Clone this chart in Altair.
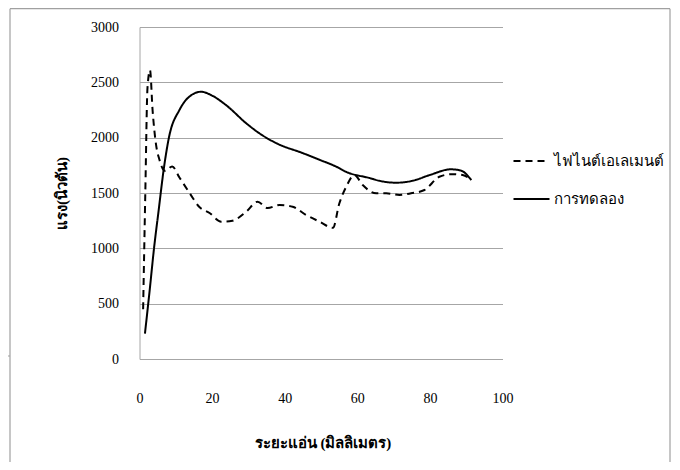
import altair as alt
import pandas as pd

# Finite element series (dashed)
fem_x = [1.0, 1.6, 2.2, 2.9, 3.6, 4.5, 5.5, 7.0, 9.0, 11.0, 13.8, 16.5, 19.3, 22.5, 25.6,
         29.4, 32.5, 35.3, 38.6, 42.2, 45.9, 49.6, 53.3, 55.0, 57.0, 59.2, 61.5, 65.2,
         68.0, 71.6, 74.8, 78.5, 82.6, 86.0, 89.0, 91.4]
fem_y = [450, 1500, 2450, 2610, 2250, 1950, 1800, 1700, 1740, 1640, 1500, 1373, 1319,
         1241, 1250, 1331, 1421, 1364, 1392, 1376, 1301, 1241, 1185, 1400, 1560, 1663,
         1572, 1497, 1497, 1482, 1497, 1527, 1647, 1670, 1663, 1617]

# Experiment series (solid)
exp_x = [1.5, 2.8, 4.0, 5.3, 6.7, 8.1, 11.0, 13.3, 17.0, 20.0, 24.0, 29.4, 33.0, 37.7,
         45.0, 50.0, 54.2, 57.0, 63.4, 66.0, 70.7, 75.3, 80.0, 85.8, 88.6, 91.4]
exp_y = [230, 620, 1000, 1350, 1720, 2000, 2250, 2358, 2415, 2380, 2290, 2130, 2040,
         1950, 1860, 1795, 1738, 1690, 1635, 1611, 1593, 1611, 1663, 1714, 1702, 1617]

series_names = ["ไฟไนต์เอเลเมนต์", "การทดลอง"]
x_ticks = [0, 20, 40, 60, 80, 100]
y_ticks = [0, 500, 1000, 1500, 2000, 2500, 3000]

df = pd.concat([
    pd.DataFrame({"x": fem_x, "y": fem_y, "s": series_names[0], "o": range(len(fem_x))}),
    pd.DataFrame({"x": exp_x, "y": exp_y, "s": series_names[1], "o": range(len(exp_x))}),
])

SERIF = "Liberation Serif"
GRID = "#a6a6a6"

lines = alt.Chart(df).mark_line(interpolate="monotone", color="black", strokeWidth=2).encode(
    x=alt.X("x:Q", scale=alt.Scale(domain=[0, 100]),
            axis=alt.Axis(values=x_ticks, title="ระยะแอ่น (มิลลิเมตร)", grid=False,
                          ticks=False, domainColor=GRID, labelPadding=32, labelFlush=False,
                          titleX=183, titleY=76)),
    y=alt.Y("y:Q", scale=alt.Scale(domain=[0, 3000]),
            axis=alt.Axis(values=y_ticks, format="d", title="แรง(นิวตัน)", grid=True,
                          gridColor=GRID, ticks=False, domainColor=GRID, labelPadding=21,
                          labelFlush=False, titleX=-70, titleY=166)),
    order="o:Q",
    strokeDash=alt.StrokeDash("s:N",
        scale=alt.Scale(domain=series_names, range=[[7, 5], [1, 0]]),
        legend=alt.Legend(title=None, orient="none", legendX=373, legendY=115,
                          symbolType="stroke", symbolSize=1296, symbolStrokeWidth=2,
                          symbolStrokeColor="black", rowPadding=11, padding=0,
                          labelOffset=3, labelFontSize=15, labelFont=SERIF,
                          labelColor="black")),
)

one = alt.Data(values=[{}])
border_color = "#a0a0a0"
border = [
    alt.Chart(one).mark_rule(color=border_color, strokeWidth=1.2).encode(
        x=alt.value(-129.5), x2=alt.value(530.5), y=alt.value(-18.3)),
    alt.Chart(one).mark_rule(color=border_color, strokeWidth=1.2).encode(
        x=alt.value(-129.5), y=alt.value(-18.3), y2=alt.value(450)),
    alt.Chart(one).mark_rule(color=border_color, strokeWidth=1.2).encode(
        x=alt.value(530.5), y=alt.value(-18.3), y2=alt.value(450)),
    alt.Chart(one).mark_rule(color=border_color, strokeWidth=1.2).encode(
        x=alt.value(-124.5), y=alt.value(-35), y2=alt.value(-18.3)),
    alt.Chart(one).mark_rule(color=border_color, strokeWidth=1.2).encode(
        x=alt.value(-140), x2=alt.value(-129.5), y=alt.value(329)),
]

chart = alt.layer(lines, *border).properties(
    width=363, height=332,
    autosize=alt.AutoSizeParams(type="none"),
    padding={"left": 131.5, "top": 19, "right": 169.5, "bottom": 103},
).configure_view(stroke=None).configure_axis(
    labelFont=SERIF, labelFontSize=14, labelColor="black",
    titleFont=SERIF, titleFontSize=15, titleFontWeight="bold", titleColor="black",
)

chart.save("out.html", embed_options={"renderer": "svg", "actions": False})
